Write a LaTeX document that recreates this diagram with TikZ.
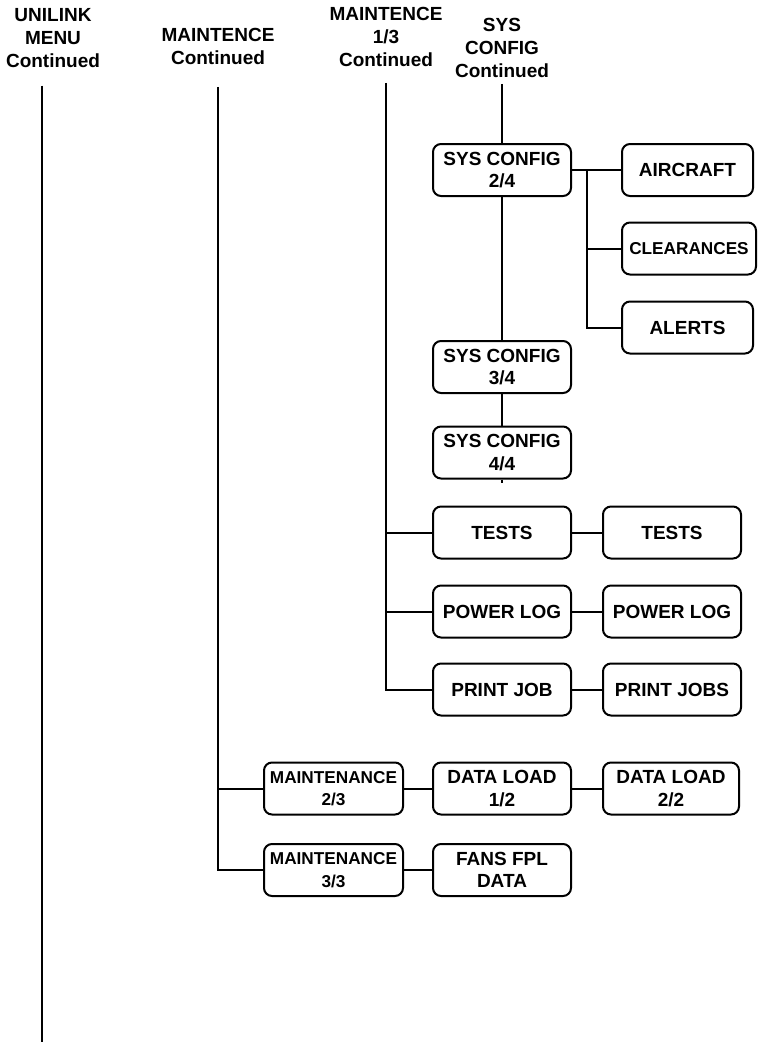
\documentclass[tikz,border=0pt]{standalone}
\usepackage{fontspec}
\setmainfont{Liberation Sans}
\usetikzlibrary{positioning}

\begin{document}
\begin{tikzpicture}[
  x=1pt, y=-1pt,
  menu/.style={draw,line width=2pt,rounded corners=8pt,minimum width=138pt,minimum height=52pt,inner sep=2pt,align=center,font=\bfseries\fontsize{19}{22.5}\selectfont},
  narrow/.style={font=\bfseries\fontsize{17.2}{22.5}\selectfont},
  head/.style={inner sep=0pt,anchor=north,align=center,font=\bfseries\fontsize{19}{23}\selectfont},
  link/.style={line width=2pt}
]
\useasboundingbox (0,0) rectangle (762,1042);
% column headers
\node[head] (unilink) at (53,8) {UNILINK\\MENU\\Continued};
\node[head] (maint) at (218,28) {MAINTENCE\\Continued};
\node[head] (maintone) at (386,7) {MAINTENCE\\1/3\\Continued};
\node[head] (sysc) at (502,18) {SYS\\CONFIG\\Continued};
% sys config pages
\node[menu] (sys2) at (502,170) {SYS CONFIG\\2/4};
\node[menu] (sys3) at (502,367) {SYS CONFIG\\3/4};
\node[menu] (sys4) at (502,452.5) {SYS CONFIG\\4/4};
\node[menu,minimum width=131pt] (aircraft) at (687.5,170) {AIRCRAFT};
\node[menu,narrow,minimum width=134pt] (clear) at (689,248.5) {CLEARANCES};
\node[menu,minimum width=131pt] (alerts) at (687.5,327.5) {ALERTS};
% maintenance 1/3 items
\node[menu] (tests) at (502,532.5) {TESTS};
\node[menu] (power) at (502,611.5) {POWER LOG};
\node[menu] (print) at (502,689.5) {PRINT JOB};
\node[menu] (testsb) at (672,532.5) {TESTS};
\node[menu] (powerb) at (672,611.5) {POWER LOG};
\node[menu] (printb) at (672,689.5) {PRINT JOBS};
% maintenance 2/3 and 3/3
\node[menu,narrow,minimum width=139pt] (maint2) at (333.5,788.5) {MAINTENANCE\\2/3};
\node[menu,narrow,minimum width=139pt] (maint3) at (333.5,870) {MAINTENANCE\\3/3};
\node[menu] (load1) at (502,788.5) {DATA LOAD\\1/2};
\node[menu,minimum width=136pt] (load2) at (671,788.5) {DATA LOAD\\2/2};
\node[menu] (fans) at (502,870) {FANS FPL\\DATA};
\coordinate (fork) at (587,170);
\coordinate (stub) at (502,483);
\coordinate (bottom) at (42,1042);

% connectors
\draw[link] (unilink.south -| bottom) ++(0,18) -- (bottom);
\draw[link] ([yshift=-22pt]maint.south) |- (maint3.west);
\draw[link] (maint2.west) -- (maint2.west -| maint.south);
\draw[link] ([yshift=-16pt]maintone.south) |- (print.west);
\draw[link] (tests.west) -- (tests.west -| maintone.south);
\draw[link] (power.west) -- (power.west -| maintone.south);
\draw[link] ([yshift=-6pt]sysc.south) -- (sys2.north);
\draw[link] (sys2) -- (sys3);
\draw[link] (sys3) -- (sys4);
\draw[link] (sys4.south) -- (stub);
\draw[link] (sys2.east) -- (aircraft.west);
\draw[link] (fork) |- (alerts.west);
\draw[link] (fork |- clear.west) -- (clear.west);
\draw[link] (tests) -- (testsb);
\draw[link] (power) -- (powerb);
\draw[link] (print) -- (printb);
\draw[link] (maint2) -- (load1);
\draw[link] (load1) -- (load2);
\draw[link] (maint3) -- (fans);
\end{tikzpicture}
\end{document}
